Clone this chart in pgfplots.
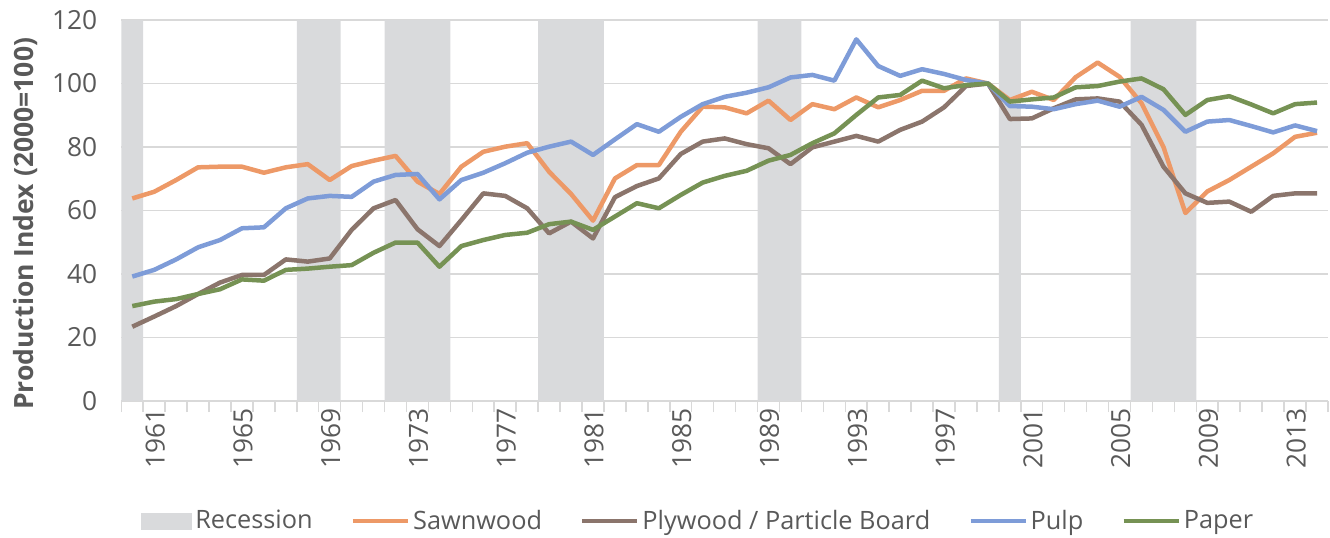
\documentclass[border=0pt]{standalone}
\usepackage{fontspec}
\setmainfont{Open Sans}
\usepackage{pgfplots}
\pgfplotsset{compat=1.18}
\usepackage{pgfplotstable}
\definecolor{saw}{RGB}{237,153,103}
\definecolor{ply}{RGB}{139,117,108}
\definecolor{pulp}{RGB}{126,156,216}
\definecolor{paper}{RGB}{118,146,84}
\definecolor{recgray}{RGB}{217,218,220}
\definecolor{gridgray}{RGB}{217,217,217}
\definecolor{tickgray}{RGB}{89,89,89}
\pgfplotstableread{
year saw ply pulp paper
1961 63.8 23.4 39.2 29.9
1962 65.9 26.6 41.3 31.3
1963 69.6 29.9 44.6 32.1
1964 73.6 33.7 48.4 33.7
1965 73.8 37.3 50.7 35.2
1966 73.8 39.7 54.4 38.3
1967 71.9 39.7 54.7 37.9
1968 73.6 44.6 60.7 41.3
1969 74.6 43.9 63.8 41.7
1970 69.6 44.9 64.6 42.3
1971 74.0 53.9 64.3 42.8
1972 75.7 60.7 69.1 46.7
1973 77.2 63.3 71.2 49.9
1974 69.1 54.1 71.5 49.9
1975 65.2 48.8 63.5 42.3
1976 73.8 57.0 69.6 48.8
1977 78.5 65.4 71.9 50.7
1978 80.1 64.6 74.9 52.3
1979 81.2 60.7 78.2 53.0
1980 72.2 52.8 80.1 55.7
1981 65.2 56.5 81.7 56.5
1982 56.8 51.2 77.5 53.9
1983 70.1 64.2 82.4 58.1
1984 74.3 67.7 87.2 62.3
1985 74.3 70.1 84.8 60.7
1986 84.8 77.8 89.5 64.9
1987 92.7 81.7 93.5 68.8
1988 92.5 82.7 95.8 70.9
1989 90.6 80.9 97.1 72.5
1990 94.6 79.6 98.8 75.7
1991 88.5 74.6 101.9 77.5
1992 93.5 79.9 102.7 81.2
1993 91.9 81.7 100.9 84.3
1994 95.6 83.5 113.9 90.1
1995 92.5 81.7 105.5 95.6
1996 94.8 85.4 102.4 96.4
1997 97.7 88.0 104.5 100.9
1998 97.7 92.5 103.0 98.5
1999 101.6 99.2 101.1 99.5
2000 100.0 100.0 100.0 100.0
2001 94.8 88.8 92.9 94.3
2002 97.4 89.0 92.7 95.0
2003 94.8 92.2 91.9 95.6
2004 102.0 95.0 93.5 98.8
2005 106.6 95.3 94.6 99.2
2006 102.1 94.3 92.7 100.6
2007 93.8 87.0 95.8 101.6
2008 80.0 73.8 91.7 98.2
2009 59.2 65.4 84.8 90.1
2010 66.0 62.4 88.0 94.8
2011 69.6 62.8 88.5 96.0
2012 73.8 59.6 86.6 93.4
2013 78.0 64.6 84.6 90.6
2014 83.2 65.4 86.8 93.5
2015 84.5 65.4 85.0 94.0
}\data
\begin{document}
\begin{tikzpicture}
\begin{axis}[name=ax, scale only axis, width=603.35bp, height=190.5bp,
  xmin=1960.5, xmax=2015.5, ymin=0, ymax=120,
  /pgf/number format/assume math mode=true,
  ytick={0,20,...,120},
  xtick={1961,1965,...,2013},
  minor xtick={1960.5,1961.5,...,2015.5},
  xticklabel style={/pgf/number format/1000 sep={}, rotate=90, anchor=east, yshift=-11.5bp},
  yticklabel style={xshift=-8.5bp},
  tick label style={font=\fontsize{13.2}{15}\selectfont, text=tickgray},
  major tick length=0pt, minor tick length=5.5bp, tick align=outside,
  minor tick style={gridgray, line width=0.75bp},
  axis x line*=bottom, axis y line*=left,
  y axis line style={draw=none},
  x axis line style={draw=gridgray, line width=0.75bp},
  ymajorgrids, grid style={gridgray, line width=0.75bp},
  ylabel={Production Index (2000=100)},
  ylabel style={font=\bfseries\fontsize{13.3}{15}\selectfont, text=tickgray, at={(axis description cs:-0.0796,0.465)}, anchor=center},
  legend columns=5,
  legend style={draw=none, fill=none, at={(axis description cs:0.4785,-0.315)}, anchor=center,
    font=\fontsize{12.7}{15}\selectfont, text=tickgray, inner sep=0pt,
    nodes={inner sep=1.5bp},
    /tikz/every even column/.append style={column sep=17.5bp}},
  legend image code/.code={\draw[#1, line width=2.2bp] (0bp,0bp) -- (27.5bp,0bp);},
  every axis plot/.append style={line width=2.25bp, line join=round},
]
\addplot[ybar, bar width=1, bar shift=0pt, fill=recgray, draw=none,
  legend image code/.code={\fill[recgray] (0bp,-4.25bp) rectangle (25.5bp,4.25bp);}]
  coordinates {(1961,120) (1969,120) (1970,120) (1973,120) (1974,120) (1975,120)
  (1980,120) (1981,120) (1982,120) (1990,120) (1991,120) (2001,120)
  (2007,120) (2008,120) (2009,120)};
\addlegendentry{Recession}
\addplot[saw] table[x=year, y=saw] {\data};
\addlegendentry{Sawnwood}
\addplot[ply] table[x=year, y=ply] {\data};
\addlegendentry{Plywood / Particle Board}
\addplot[pulp] table[x=year, y=pulp] {\data};
\addlegendentry{Pulp}
\addplot[paper] table[x=year, y=paper] {\data};
\addlegendentry{Paper}
\end{axis}
\pgfresetboundingbox
\path ([xshift=-60.65bp,yshift=-68bp]ax.south west) rectangle ([xshift=1bp,yshift=10bp]ax.north east);
\end{tikzpicture}
\end{document}
